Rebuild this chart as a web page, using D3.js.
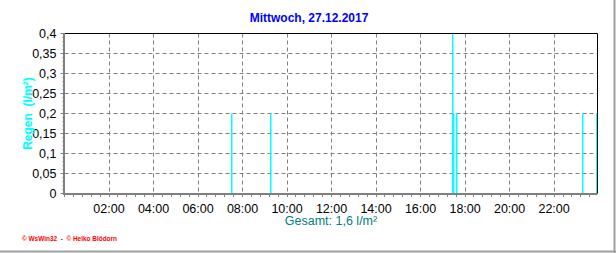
<!DOCTYPE html>
<html>
<head>
<meta charset="utf-8">
<script src="https://cdn.jsdelivr.net/npm/d3@7"></script>
<style>
  html, body { margin: 0; padding: 0; background: #fff; }
  svg { display: block; }
  text { font-family: "Liberation Sans", Arial, sans-serif; }
</style>
</head>
<body>
<div id="canvas"></div>
<script>
// Regen am 27.12.2017, Zeitpunkt in Stunden, Menge in l/m²
const rainTimes  = [7.5, 9.25, 17.42, 17.5, 17.6, 23.27, 23.9];
const rainValues = [0.2, 0.2, 0.4, 0.2, 0.2, 0.2, 0.2];
const yTicks = [0, 0.05, 0.1, 0.15, 0.2, 0.25, 0.3, 0.35, 0.4];
const xTickHours = [2, 4, 6, 8, 10, 12, 14, 16, 18, 20, 22];
const title = "Mittwoch, 27.12.2017";
const yLabel = "Regen  (l/m²)";
const totalLabel = "Gesamt: 1,6 l/m²";
const footer = "© WsWin32  -  © Heiko Blödorn";

const width = 616, height = 253;
const margin = { top: 33.5, left: 64.5, bottom: 59.5, right: 18.5 };
const iwidth = width - margin.left - margin.right;
const iheight = height - margin.top - margin.bottom;

const svg = d3.select("#canvas").append("svg")
  .attr("width", width)
  .attr("height", height);

// äußerer Rahmen (rechts und unten grau)
svg.append("line").attr("x1", 614.5).attr("x2", 614.5).attr("y1", 0).attr("y2", 253)
  .attr("stroke", "#a0a0a0").attr("stroke-width", 2);
svg.append("line").attr("x1", 0).attr("x2", 616).attr("y1", 251.5).attr("y2", 251.5)
  .attr("stroke", "#a0a0a0").attr("stroke-width", 2);

const x = d3.scaleLinear().domain([0, 23.95]).range([0, iwidth]);
const y = d3.scaleLinear().domain([0, 0.4]).range([iheight, 0]);

const g = svg.append("g").attr("transform", `translate(${margin.left},${margin.top})`);

// Gitter
g.selectAll(".hgrid").data(yTicks.filter(d => d > 0 && d < 0.4)).enter()
  .append("line")
  .attr("x1", 0).attr("x2", iwidth)
  .attr("y1", d => Math.round(y(d))).attr("y2", d => Math.round(y(d)))
  .attr("stroke", "#808080").attr("stroke-dasharray", "4,3");

g.selectAll(".vgrid").data(xTickHours).enter()
  .append("line")
  .attr("x1", d => Math.round(x(d))).attr("x2", d => Math.round(x(d)))
  .attr("y1", 0).attr("y2", iheight)
  .attr("stroke", "#808080").attr("stroke-dasharray", "4,3");

// Balken
g.selectAll(".bar").data(rainTimes).enter()
  .append("rect")
  .attr("x", d => Math.round(x(d)) - 0.5)
  .attr("y", (d, i) => y(rainValues[i]))
  .attr("width", 1.5)
  .attr("height", (d, i) => iheight - y(rainValues[i]))
  .attr("fill", "#00ffff");

// Rahmen oben/rechts
g.append("line").attr("x1", 0).attr("x2", iwidth).attr("y1", 0).attr("y2", 0).attr("stroke", "#000");
g.append("line").attr("x1", iwidth).attr("x2", iwidth).attr("y1", 0).attr("y2", iheight).attr("stroke", "#000");

// y-Achse
const yAxis = g.append("g");
yAxis.selectAll(".minor").data(d3.range(0, 41)).enter()
  .append("line")
  .attr("x1", -2).attr("x2", 0)
  .attr("y1", d => Math.round(y(d / 100))).attr("y2", d => Math.round(y(d / 100)))
  .attr("stroke", "#808080");
yAxis.selectAll(".major").data(yTicks).enter()
  .append("line")
  .attr("x1", -4).attr("x2", 0)
  .attr("y1", d => Math.round(y(d))).attr("y2", d => Math.round(y(d)))
  .attr("stroke", "#808080");
yAxis.selectAll("text").data(yTicks).enter()
  .append("text")
  .attr("x", -8).attr("y", d => y(d) + 4.5)
  .attr("text-anchor", "end")
  .attr("font-size", 12.5)
  .attr("fill", "#000")
  .text(d => d3.format("~g")(d).replace(".", ","));
yAxis.append("line").attr("x1", -0.5).attr("x2", -0.5).attr("y1", 0).attr("y2", iheight + 1)
  .attr("stroke", "#808080").attr("stroke-width", 2);

// x-Achse
const xAxis = g.append("g").attr("transform", `translate(0,${iheight})`);
xAxis.selectAll(".minor").data(d3.range(0, 60)).enter()
  .append("line")
  .attr("x1", d => Math.round(x(d * 0.4))).attr("x2", d => Math.round(x(d * 0.4)))
  .attr("y1", 0).attr("y2", 3.5)
  .attr("stroke", "#808080");
xAxis.selectAll("text").data(xTickHours).enter()
  .append("text")
  .attr("x", d => x(d)).attr("y", 19)
  .attr("text-anchor", "middle")
  .attr("font-size", 12.5)
  .attr("fill", "#000")
  .text(d => d3.format("02")(d) + ":00");
xAxis.append("line").attr("x1", -1.5).attr("x2", iwidth).attr("y1", 0.5).attr("y2", 0.5)
  .attr("stroke", "#808080").attr("stroke-width", 2);

// Texte
svg.append("text")
  .attr("x", margin.left + iwidth / 2 - 22).attr("y", 22)
  .attr("text-anchor", "middle")
  .attr("font-size", 12).attr("font-weight", "bold")
  .attr("fill", "#0000ff")
  .text(title);

svg.append("text")
  .attr("transform", `translate(32,${margin.top + iheight / 2}) rotate(-90)`)
  .attr("text-anchor", "middle")
  .attr("font-size", 12).attr("font-weight", "bold")
  .attr("fill", "#00ffff")
  .attr("xml:space", "preserve")
  .text(yLabel);

svg.append("text")
  .attr("x", margin.left + iwidth / 2).attr("y", 225)
  .attr("text-anchor", "middle")
  .attr("font-size", 12.5)
  .attr("fill", "#008080")
  .text(totalLabel);

svg.append("text")
  .attr("x", 22).attr("y", 241)
  .attr("font-size", 7).attr("font-weight", "bold")
  .attr("fill", "#ff0000")
  .attr("textLength", 95).attr("lengthAdjust", "spacingAndGlyphs")
  .attr("xml:space", "preserve")
  .text(footer);
</script>
</body>
</html>
